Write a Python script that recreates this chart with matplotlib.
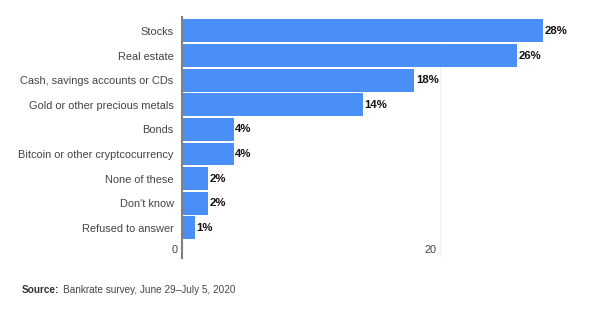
import matplotlib

matplotlib.use("Agg")
import matplotlib.pyplot as plt  # noqa: E402
from matplotlib.transforms import blended_transform_factory  # noqa: E402

categories = [
    "Stocks",
    "Real estate",
    "Cash, savings accounts or CDs",
    "Gold or other precious metals",
    "Bonds",
    "Bitcoin or other cryptcocurrency",
    "None of these",
    "Don't know",
    "Refused to answer",
]
values = [28, 26, 18, 14, 4, 4, 2, 2, 1]
xticks = [0, 20]

plt.rcParams["font.family"] = ["Liberation Sans", "DejaVu Sans"]

fig = plt.figure(figsize=(5.95, 3.25), dpi=100)
ax = fig.add_axes([0.306, 0.206, 0.672, 0.742])

pos = list(range(len(categories)))
ax.barh(pos, values, height=0.93, color="#4a8ff6", zorder=2)
for p, v in zip(pos, values):
    ax.text(v + 0.12, p, f"{v}%", va="center", ha="left", fontsize=8.2,
            fontweight="bold", color="#111111")

ax.set_ylim(9.23, -0.57)
ax.set_xlim(0, 31)
ax.set_yticks(pos)
ax.set_yticklabels(categories, fontsize=7.9, color="#444444")
ax.tick_params(axis="y", length=0, pad=6)
ax.set_xticks([])

# x tick labels sit inside the axis area, below the last bar
tr = blended_transform_factory(ax.transData, ax.transAxes)
for t in xticks:
    ax.text(t - 0.3, 0.035, str(t), transform=tr, ha="right", va="center",
            fontsize=7.9, color="#444444")
    if t:
        ax.axvline(t, color="#f2f2f2", lw=0.8, zorder=0)

for s in ["top", "right", "bottom"]:
    ax.spines[s].set_visible(False)
ax.spines["left"].set_color("#808080")
ax.spines["left"].set_linewidth(1.5)
ax.spines["left"].set_zorder(3)

src = fig.text(0.037, 0.108, "Source:", fontsize=7.2, fontweight="bold", color="#333333",
               va="center", ha="left")
fig.canvas.draw()
bb = src.get_window_extent().transformed(fig.transFigure.inverted())
fig.text(bb.x1 + 0.006, 0.108, "Bankrate survey, June 29\u2013July 5, 2020", fontsize=7.2,
         color="#444444", va="center", ha="left")

fig.savefig("out.png", dpi=100)
plt.close(fig)
